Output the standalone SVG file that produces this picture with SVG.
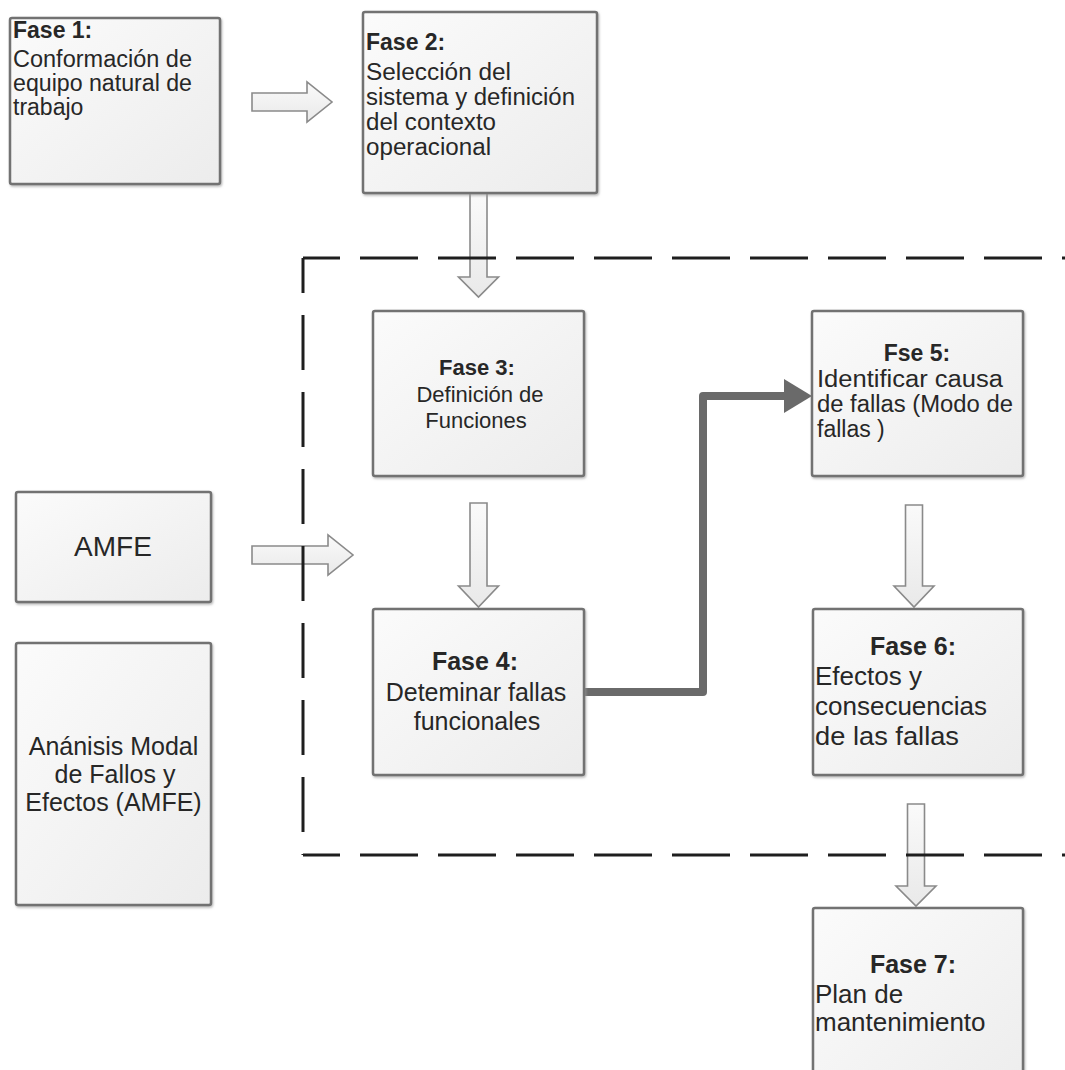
<svg xmlns="http://www.w3.org/2000/svg" width="1065" height="1070" viewBox="0 0 1065 1070">
  <defs>
    <linearGradient id="boxFill" x1="0" y1="0" x2="1" y2="1">
      <stop offset="0" stop-color="#fbfbfb"/>
      <stop offset="1" stop-color="#ececec"/>
    </linearGradient>
    <linearGradient id="arrowFill" x1="0" y1="0" x2="0" y2="1">
      <stop offset="0" stop-color="#fafafa"/>
      <stop offset="1" stop-color="#e9e9e9"/>
    </linearGradient>
    <filter id="shadow" x="-5%" y="-5%" width="112%" height="112%">
      <feDropShadow dx="1" dy="1.5" stdDeviation="1" flood-color="#9a9a9a" flood-opacity="0.7"/>
    </filter>
    <marker id="thickHead" markerUnits="userSpaceOnUse" viewBox="0 0 28 34" markerWidth="28" markerHeight="34" refX="0" refY="17" orient="auto">
      <path d="M0,0 L28,17 L0,34 Z" fill="#6a6a6a"/>
    </marker>
  </defs>
  <style>
    .box { fill: url(#boxFill); stroke: #727272; stroke-width: 2.5; filter: url(#shadow); }
    .blk { fill: url(#arrowFill); stroke: #8a8a8a; stroke-width: 1.6; stroke-linejoin: miter; }
    .dash { fill: none; stroke: #1e1e1e; stroke-width: 3; }
    .thick { fill: none; stroke: #6a6a6a; stroke-width: 8; stroke-linejoin: round; }
    text { font-family: "Liberation Sans", Arial, sans-serif; fill: #272727; }
    .t22 { font-size: 22px; }
    .t23 { font-size: 23px; }
    .t25 { font-size: 25px; }
    .t26 { font-size: 26px; }
    .b { font-weight: bold; }
    .mid { text-anchor: middle; }
  </style>

  <rect width="1065" height="1070" fill="#ffffff"/>

  <!-- block arrows and the thick link -->
  <g id="connectors">
    <polygon class="blk" points="252,93 307,93 307,82 332,102 307,122 307,111 252,111"/>
    <polygon class="blk" points="252,546 328,546 328,535 353,555 328,575 328,564 252,564"/>
    <polygon class="blk" points="470,193 487,193 487,277 498.5,277 478.5,297 458.5,277 470,277"/>
    <polygon class="blk" points="470,503 487,503 487,586 498.5,586 478.5,607 458.5,586 470,586"/>
    <polygon class="blk" points="905.5,505 922.5,505 922.5,586 934,586 914,607 894,586 905.5,586"/>
    <polygon class="blk" points="907.5,804 924.5,804 924.5,886 936,886 916,906 896,886 907.5,886"/>
    <path class="thick" d="M584,692 H703 V396 H784" marker-end="url(#thickHead)"/>
  </g>

  <!-- dashed frame around phases 3 to 6 -->
  <g id="frame">
    <path class="dash" d="M303,258 H1070" stroke-dasharray="58 20" stroke-dashoffset="21"/>
    <path class="dash" d="M303,258 V855" stroke-dasharray="55 22" stroke-dashoffset="20"/>
    <path class="dash" d="M303,855 H1070" stroke-dasharray="58 20" stroke-dashoffset="21"/>
  </g>

  <g id="fase1">
    <rect class="box" x="10" y="18" width="210" height="166" rx="2"/>
    <text class="t23 b" x="13" y="38">Fase 1:</text>
    <text class="t23" x="13" y="67" textLength="179" lengthAdjust="spacingAndGlyphs">Conformación de</text>
    <text class="t23" x="13" y="91" textLength="179" lengthAdjust="spacingAndGlyphs">equipo natural de</text>
    <text class="t23" x="13" y="115">trabajo</text>
  </g>

  <g id="fase2">
    <rect class="box" x="363" y="12" width="234" height="181" rx="2"/>
    <text class="t23 b" x="366" y="50">Fase 2:</text>
    <text class="t23" x="366" y="80" textLength="145" lengthAdjust="spacingAndGlyphs">Selección del</text>
    <text class="t23" x="366" y="105" textLength="209" lengthAdjust="spacingAndGlyphs">sistema y definición</text>
    <text class="t23" x="366" y="130" textLength="130" lengthAdjust="spacingAndGlyphs">del contexto</text>
    <text class="t23" x="366" y="155" textLength="125" lengthAdjust="spacingAndGlyphs">operacional</text>
  </g>

  <g id="fase3">
    <rect class="box" x="373" y="311" width="211" height="165" rx="2"/>
    <text class="t22 b mid" x="477" y="375">Fase 3:</text>
    <text class="t22 mid" x="480" y="402">Definición de</text>
    <text class="t22 mid" x="476" y="428">Funciones</text>
  </g>

  <g id="fase4">
    <rect class="box" x="373" y="609" width="211" height="166" rx="2"/>
    <text class="t25 b mid" x="475" y="670">Fase 4:</text>
    <text class="t25 mid" x="476" y="701">Deteminar fallas</text>
    <text class="t25 mid" x="477" y="730">funcionales</text>
  </g>

  <g id="fase5">
    <rect class="box" x="812" y="311" width="211" height="165" rx="2"/>
    <text class="t23 b mid" x="917" y="361">Fse 5:</text>
    <text class="t23" x="817" y="387" textLength="186" lengthAdjust="spacingAndGlyphs">Identificar causa</text>
    <text class="t23" x="817" y="412" textLength="196" lengthAdjust="spacingAndGlyphs">de fallas (Modo de</text>
    <text class="t23" x="817" y="437">fallas )</text>
  </g>

  <g id="fase6">
    <rect class="box" x="813" y="609" width="210" height="166" rx="2"/>
    <text class="t25 b mid" x="913" y="655">Fase 6:</text>
    <text class="t26" x="815" y="685">Efectos y</text>
    <text class="t26" x="815" y="715">consecuencias</text>
    <text class="t26" x="815" y="745" textLength="144" lengthAdjust="spacingAndGlyphs">de las fallas</text>
  </g>

  <g id="fase7">
    <rect class="box" x="813" y="908" width="210" height="200" rx="2"/>
    <text class="t25 b mid" x="913" y="973">Fase 7:</text>
    <text class="t26" x="815" y="1003">Plan de</text>
    <text class="t26" x="815" y="1031">mantenimiento</text>
  </g>

  <g id="amfe">
    <rect class="box" x="16" y="492" width="195" height="110" rx="2"/>
    <text class="mid" x="113" y="556" font-size="28">AMFE</text>
  </g>

  <g id="analisis">
    <rect class="box" x="16" y="643" width="195" height="262" rx="2"/>
    <text class="t25 mid" x="113.5" y="755">Anánisis Modal</text>
    <text class="t25 mid" x="115" y="783">de Fallos y</text>
    <text class="t25 mid" x="113.5" y="811">Efectos (AMFE)</text>
  </g>
</svg>
